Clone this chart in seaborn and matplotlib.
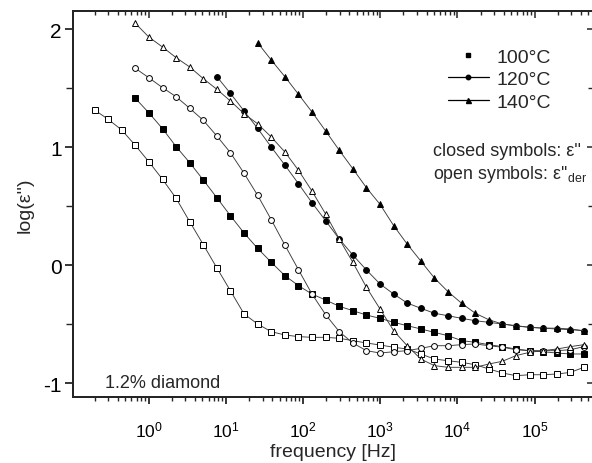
import numpy as np
import pandas as pd
import matplotlib
matplotlib.use("Agg")
import matplotlib.pyplot as plt
from matplotlib.lines import Line2D
from matplotlib.ticker import LogLocator, MultipleLocator, NullFormatter
import seaborn as sns

# ---------------- data ----------------
freq = [0.2, 0.3, 0.45, 0.675, 1.01, 1.52, 2.28, 3.42, 5.13, 7.69,
        11.5, 17.3, 25.9, 38.9, 58.4, 87.6, 131, 197, 296, 443,
        665, 998, 1500, 2240, 3370, 5050, 7580, 11400, 17100, 25600,
        38400, 57500, 86300, 129000, 194000, 291000, 437000]

# 100 °C, closed squares (epsilon''), starts at freq index 3
eps_100 = [1.413, 1.29, 1.155, 1.003, 0.867, 0.72, 0.57, 0.418, 0.271, 0.141,
           0.023, -0.09, -0.175, -0.246, -0.297, -0.35, -0.387, -0.424, -0.452, -0.486,
           -0.514, -0.542, -0.571, -0.599, -0.641, -0.655, -0.675, -0.692, -0.712, -0.726,
           -0.735, -0.746, -0.754, -0.754]
# 100 °C, open squares (epsilon''_der), starts at index 0
der_100 = [1.314, 1.235, 1.144, 1.014, 0.875, 0.726, 0.565, 0.367, 0.172, -0.025,
           -0.218, -0.415, -0.5, -0.565, -0.593, -0.607, -0.613, -0.613, -0.621, -0.641,
           -0.661, -0.678, -0.697, -0.712, -0.754, -0.797, -0.811, -0.825, -0.845, -0.881,
           -0.915, -0.938, -0.93, -0.93, -0.924, -0.91, -0.867]
# 120 °C, closed circles, starts at index 9
eps_120 = [1.596, 1.455, 1.305, 1.158, 1.0, 0.847, 0.689, 0.528, 0.375, 0.22,
           0.085, -0.042, -0.161, -0.246, -0.322, -0.367, -0.409, -0.43, -0.452, -0.472,
           -0.486, -0.5, -0.514, -0.528, -0.536, -0.542, -0.548, -0.557]
# 120 °C, open circles, starts at index 3
der_120 = [1.667, 1.587, 1.503, 1.426, 1.328, 1.226, 1.093, 0.952, 0.777, 0.591,
           0.384, 0.169, -0.04, -0.246, -0.421, -0.565, -0.661, -0.726, -0.746, -0.735,
           -0.726, -0.706, -0.684, -0.684, -0.675, -0.669, -0.684, -0.697, -0.718, -0.726,
           -0.726, -0.726, -0.718, -0.692]
# 140 °C, closed triangles, starts at index 12
eps_140 = [1.884, 1.737, 1.596, 1.447, 1.297, 1.136, 0.972, 0.816, 0.655, 0.514,
           0.333, 0.178, 0.033, -0.11, -0.226, -0.325, -0.409, -0.464, -0.5, -0.517,
           -0.528, -0.534, -0.536, -0.542, -0.557]
# 140 °C, open triangles, starts at index 3
der_140 = [2.048, 1.932, 1.847, 1.757, 1.678, 1.579, 1.489, 1.39, 1.282, 1.197,
           1.085, 0.958, 0.803, 0.627, 0.432, 0.22, 0.023, -0.189, -0.373, -0.557,
           -0.684, -0.797, -0.853, -0.867, -0.867, -0.867, -0.839, -0.816, -0.768, -0.74,
           -0.726, -0.712, -0.692, -0.675]

legend_labels = ["100°C", "120°C", "140°C"]
x_ticks = [1, 10, 100, 1000, 1e4, 1e5]
y_ticks = [-1, 0, 1, 2]

# ---------------- style ----------------
sns.set_style("ticks")
plt.rcParams["font.family"] = ["Liberation Sans", "DejaVu Sans"]
plt.rcParams["mathtext.fontset"] = "custom"
plt.rcParams["mathtext.rm"] = "Liberation Sans"
plt.rcParams["mathtext.it"] = "Liberation Sans:italic"
plt.rcParams["axes.unicode_minus"] = False

W, H = 592, 464
fig = plt.figure(figsize=(W / 100, H / 100), dpi=100)
L, R, T, B = 73, 593.5, 12, 398
ax = fig.add_axes([L / W, 1 - B / H, (R - L) / W, (B - T) / H])
ax.set_xscale("log")

line_col = "#3a3a3a"
series = [
    (eps_100, 3, "s", "black", 4.0),
    (der_100, 0, "s", "white", 4.0),
    (eps_120, 9, "o", "black", 4.2),
    (der_120, 3, "o", "white", 4.2),
    (eps_140, 12, "^", "black", 4.8),
    (der_140, 3, "^", "white", 4.8),
]
for vals, start, mk, face, ms in series:
    df = pd.DataFrame({"f": freq[start:start + len(vals)], "v": vals})
    sns.lineplot(data=df, x="f", y="v", ax=ax, color=line_col, linewidth=0.65,
                 marker=mk, markersize=ms, markerfacecolor=face,
                 markeredgecolor="black", markeredgewidth=0.7, legend=False,
                 sort=False, estimator=None, zorder=3)

x0 = 10 ** ((L - 148.5) / 77.2)
x1 = 10 ** ((R - 148.5) / 77.2)
ax.set_xlim(x0, x1)
ax.set_ylim((266 - B) / 118, (266 - T) / 118)

ax.set_xticks(x_ticks)
ax.xaxis.set_minor_locator(LogLocator(base=10, subs=np.arange(2, 10), numticks=50))
ax.xaxis.set_minor_formatter(NullFormatter())
ax.set_yticks(y_ticks)
ax.set_yticklabels([str(v) for v in y_ticks])
ax.yaxis.set_minor_locator(MultipleLocator(0.5))

for s in ax.spines.values():
    s.set_linewidth(1.3)
    s.set_color("black")

ax.tick_params(axis="x", which="major", direction="out", length=5, width=1.1,
               labelsize=12.5, pad=11, top=False, colors="black")
ax.tick_params(axis="x", which="minor", direction="out", length=3, width=1.0, top=False)
ax.tick_params(axis="y", which="major", direction="out", length=6, width=1.1,
               labelsize=15, pad=2, right=False, colors="black")
ax.tick_params(axis="y", which="minor", direction="out", length=5, width=1.0, right=False)

# top / right inward ticks
axt = ax.twiny()
axt.set_xscale("log")
axt.set_xlim(ax.get_xlim())
axt.set_xticks(x_ticks)
axt.xaxis.set_minor_locator(LogLocator(base=10, subs=np.arange(2, 10), numticks=50))
axt.tick_params(axis="x", which="major", direction="in", length=5, width=1.1, labeltop=False)
axt.tick_params(axis="x", which="minor", direction="in", length=3, width=1.0, labeltop=False)
axr = ax.twinx()
axr.set_ylim(ax.get_ylim())
axr.set_yticks(y_ticks)
axr.yaxis.set_minor_locator(MultipleLocator(0.5))
axr.tick_params(axis="y", which="major", direction="in", length=5, width=1.1, labelright=False)
axr.tick_params(axis="y", which="minor", direction="in", length=4, width=1.0, labelright=False)
for a in (axt, axr):
    for s in a.spines.values():
        s.set_linewidth(1.3)

ax.set_xlabel("frequency [Hz]", fontsize=14, labelpad=3)
ax.set_ylabel("log(ε'')", fontsize=14, labelpad=7)

# legend
handles = [
    Line2D([], [], ls="none", marker="s", color="black", markersize=3.2),
    Line2D([], [], ls="-", lw=0.9, marker="o", color="black", markersize=3.2),
    Line2D([], [], ls="-", lw=0.9, marker="^", color="black", markersize=3.6),
]
leg = ax.legend(handles, legend_labels, loc="upper left", frameon=False,
                bbox_to_anchor=(448 / W, 1 - 49 / H), bbox_transform=fig.transFigure,
                fontsize=14, handlelength=2.1, handletextpad=0.4, labelspacing=0.26,
                borderpad=0, borderaxespad=0)

ax.text(433 / W, 1 - 156 / H, "closed symbols: ε''", transform=fig.transFigure,
        fontsize=13, ha="left", va="baseline")
ax.text(433 / W, 1 - 179 / H, "open symbols: ε''$_{\\rm der}$", transform=fig.transFigure,
        fontsize=12.8, ha="left", va="baseline")
ax.text(105 / W, 1 - 388 / H, "1.2% diamond", transform=fig.transFigure,
        fontsize=13, ha="left", va="baseline")

fig.savefig("out.png", dpi=100)
